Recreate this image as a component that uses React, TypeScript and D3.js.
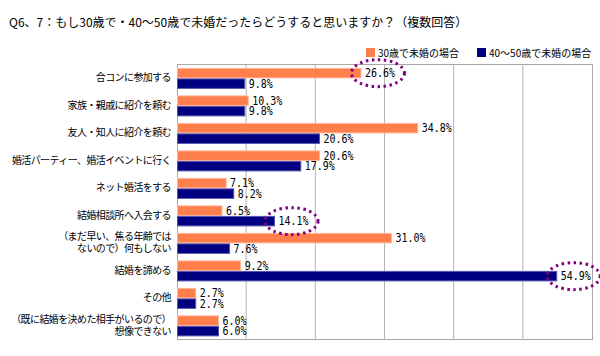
import React from "react";
import * as d3 from "d3";

const title = "Q6、7：もし30歳で・40〜50歳で未婚だったらどうすると思いますか？（複数回答）";
const categories: string[][] = [
  ["合コンに参加する"],
  ["家族・親戚に紹介を頼む"],
  ["友人・知人に紹介を頼む"],
  ["婚活パーティー、婚活イベントに行く"],
  ["ネット婚活をする"],
  ["結婚相談所へ入会する"],
  ["（まだ早い、焦る年齢では", "ないので）何もしない"],
  ["結婚を諦める"],
  ["その他"],
  ["（既に結婚を決めた相手がいるので）", "想像できない"],
];
const series30 = [26.6, 10.3, 34.8, 20.6, 7.1, 6.5, 31.0, 9.2, 2.7, 6.0];
const series4050 = [9.8, 9.8, 20.6, 17.9, 8.2, 14.1, 7.6, 54.9, 2.7, 6.0];
const seriesNames = ["30歳で未婚の場合", "40〜50歳で未婚の場合"];
const gridTicks = [10, 20, 30, 40, 50];
const highlights = [
  { cat: 0, s: 0 },
  { cat: 5, s: 1 },
  { cat: 7, s: 1 },
];

const W = 600;
const H = 356;
const left = 177;
const right = 592;
const top = 64;
const bottom = 339;
const colors = ["#FF7F4C", "#000080"];
const strokes = ["#FFB59A", "#5555B0"];
const cjk = "'Noto Sans CJK JP', 'Noto Sans', sans-serif";

export default function App() {
  const x = d3.scaleLinear().domain([0, 60]).range([left, right]);
  const y = d3
    .scaleBand<number>()
    .domain(categories.map((_, i) => i))
    .range([top, bottom]);
  const inner = d3
    .scaleBand<number>()
    .domain([0, 1])
    .range([0, y.bandwidth()])
    .paddingOuter(0.31)
    .align(0.6);
  const data = [series30, series4050];

  return (
    <svg
      width={W}
      height={H}
      style={{ position: "absolute", left: 0, top: 0, background: "#fff" }}
    >
      <text x={9} y={27} fontSize={12} fontFamily={cjk} fill="#000">
        {title}
      </text>
      {/* legend */}
      {seriesNames.map((n, i) => {
        const lx = i === 0 ? 366 : 477;
        return (
          <g key={n}>
            <rect x={lx} y={48} width={9} height={9} fill={colors[i]} />
            <text x={lx + 12} y={56.5} fontSize={10} fontFamily={cjk} fill="#000">
              {n}
            </text>
          </g>
        );
      })}
      {/* grid */}
      {gridTicks.map((t) => (
        <line
          key={t}
          x1={x(t)}
          x2={x(t)}
          y1={top}
          y2={bottom}
          stroke="#b4b4b4"
          strokeWidth={1}
        />
      ))}
      <rect
        x={left + 0.5}
        y={top + 0.5}
        width={right - left}
        height={bottom - top}
        fill="none"
        stroke="#a8a8a8"
        strokeWidth={1}
      />
      {/* bars */}
      {data.map((vals, s) =>
        vals.map((v, i) => {
          const by = (y(i) as number) + (inner(s) as number);
          const bh = inner.bandwidth();
          return (
            <g key={`${s}-${i}`}>
              <rect
                x={x(0) + 0.5}
                y={by + 0.5}
                width={x(v) - x(0) - 0.5}
                height={bh - 1}
                fill={colors[s]}
                stroke={strokes[s]}
                strokeWidth={1}
              />
              <text
                x={x(v) + 4}
                y={by + bh / 2 + 4.3}
                fontSize={11.5}
                fontFamily="'DejaVu Sans Mono', monospace"
                textLength={`${(v.toFixed(1) + "%").length * 6}`}
                lengthAdjust="spacingAndGlyphs"
                fill="#000"
              >
                {v.toFixed(1) + "%"}
              </text>
            </g>
          );
        })
      )}
      {/* category labels */}
      {categories.map((lines, i) => {
        const cy = (y(i) as number) + y.bandwidth() / 2;
        const lh = 12;
        const y0 = cy - ((lines.length - 1) * lh) / 2 + 3.5;
        return (
          <text
            key={i}
            x={171}
            textAnchor="end"
            fontSize={10}
            letterSpacing={-0.6}
            fontFamily={cjk}
            fill="#000"
          >
            {lines.map((l, j) => (
              <tspan key={j} x={171} y={y0 + j * lh}>
                {l}
              </tspan>
            ))}
          </text>
        );
      })}
      {/* highlight ellipses */}
      {highlights.map((h, k) => {
        const v = data[h.s][h.cat];
        const cy = (y(h.cat) as number) + (inner(h.s) as number) + inner.bandwidth() / 2;
        return (
          <ellipse
            key={k}
            cx={x(v) + 17}
            cy={cy}
            rx={26.5}
            ry={13.5}
            fill="none"
            stroke="#800080"
            strokeWidth={3}
            strokeDasharray="2.5 3.5"
          />
        );
      })}
    </svg>
  );
}
